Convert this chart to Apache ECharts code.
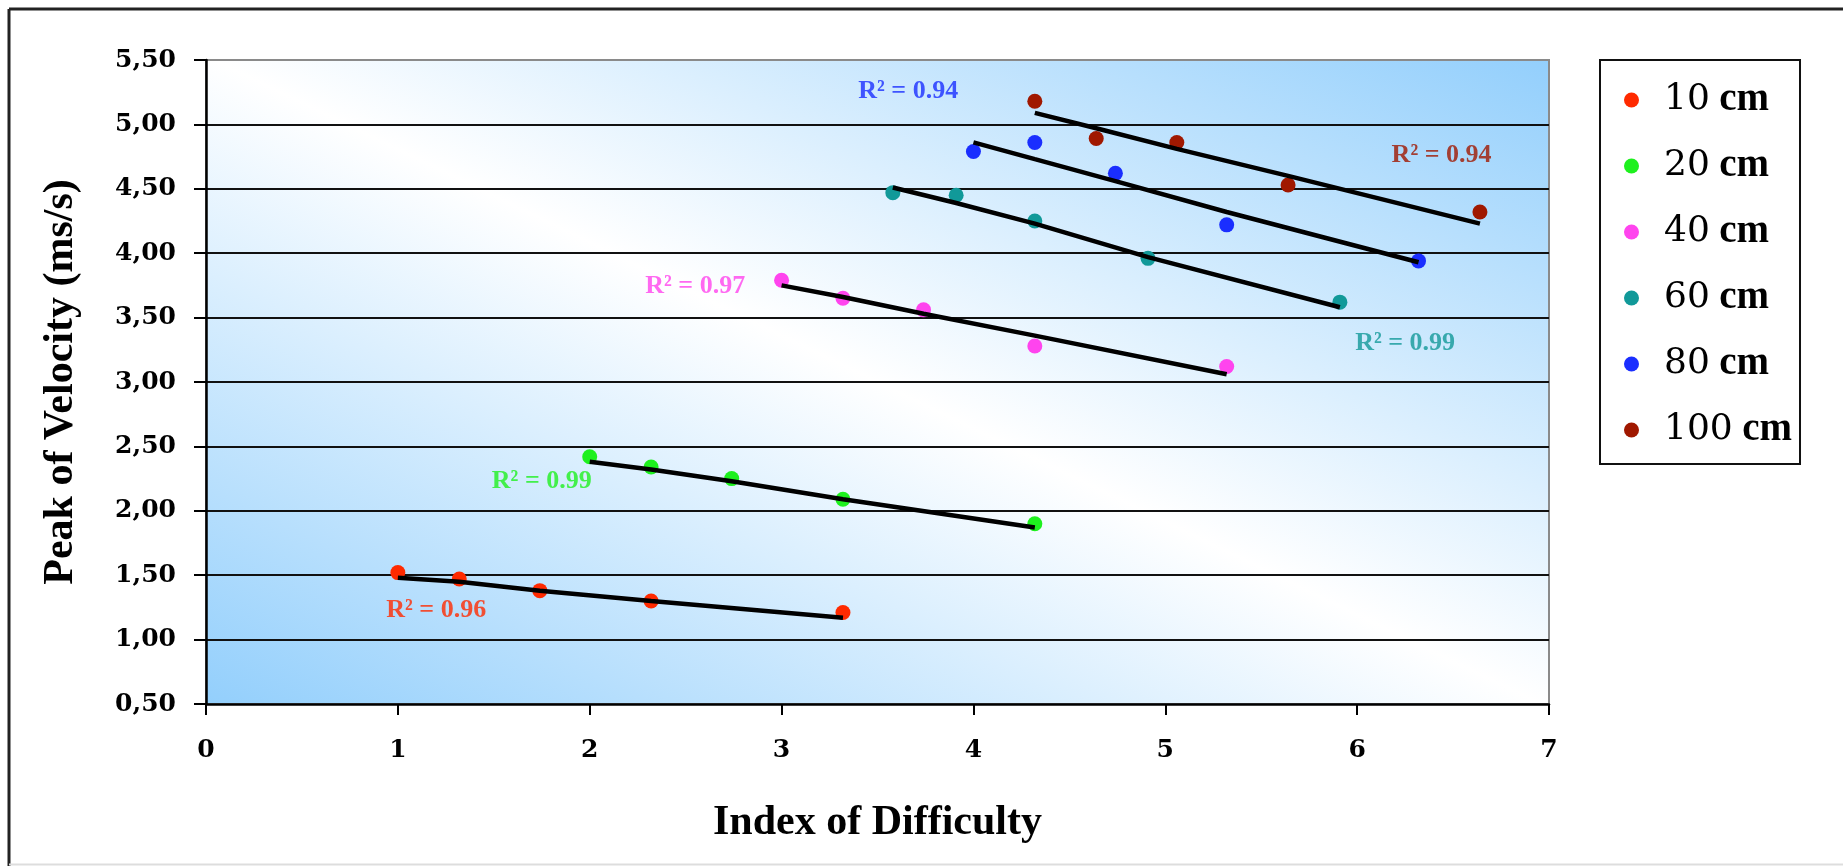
<!DOCTYPE html>
<html>
<head>
<meta charset="utf-8">
<script src="https://cdn.jsdelivr.net/npm/echarts@6/dist/echarts.min.js"></script>
<style>
html,body{margin:0;padding:0;background:#ffffff;}
#c{width:1843px;height:866px;}
</style>
</head>
<body>
<div id="c"></div>
<script>
// ---- data ----
const SERIES_NAMES = ['10 cm', '20 cm', '40 cm', '60 cm', '80 cm', '100 cm'];
const SERIES_COLORS = ['#ff2a00', '#1ef01e', '#ff44ee', '#119999', '#1a2eff', '#a01800'];

// Index of Difficulty (x) per distance
const ID_10  = [1.00, 1.32, 1.74, 2.32, 3.32];
const ID_20  = [2.00, 2.32, 2.74, 3.32, 4.32];
const ID_40  = [3.00, 3.32, 3.74, 4.32, 5.32];
const ID_60  = [3.58, 3.91, 4.32, 4.91, 5.91];
const ID_80  = [4.00, 4.32, 4.74, 5.32, 6.32];
const ID_100 = [4.32, 4.64, 5.06, 5.64, 6.64];

// Peak of velocity (y)
const PV_10  = [1.52, 1.47, 1.38, 1.30, 1.21];
const PV_20  = [2.42, 2.34, 2.25, 2.09, 1.90];
const PV_40  = [3.79, 3.65, 3.56, 3.28, 3.12];
const PV_60  = [4.47, 4.45, 4.25, 3.96, 3.62];
const PV_80  = [4.79, 4.86, 4.62, 4.22, 3.94];
const PV_100 = [5.18, 4.89, 4.86, 4.53, 4.32];

// Trend line values read at each x
const TR_10  = [1.48, 1.45, 1.38, 1.30, 1.17];
const TR_20  = [2.38, 2.32, 2.23, 2.09, 1.87];
const TR_40  = [3.75, 3.66, 3.53, 3.36, 3.06];
const TR_60  = [4.51, 4.39, 4.23, 3.97, 3.58];
const TR_80  = [4.86, 4.73, 4.56, 4.32, 3.93];
const TR_100 = [5.09, 4.97, 4.81, 4.60, 4.23];

// R² annotations: text and anchor (data coords)
const R2_TEXT = ['R² = 0.96', 'R² = 0.99', 'R² = 0.97', 'R² = 0.99', 'R² = 0.94', 'R² = 0.94'];
const R2_X = [1.20, 1.75, 2.55, 6.25, 3.66, 6.44];
const R2_Y = [1.23, 2.23, 3.74, 3.30, 5.26, 4.76];

const Y_TICK_LABELS = ['0,50','1,00','1,50','2,00','2,50','3,00','3,50','4,00','4,50','5,00','5,50'];
const X_TICK_LABELS = ['0','1','2','3','4','5','6','7'];

const IDS = [ID_10, ID_20, ID_40, ID_60, ID_80, ID_100];
const PVS = [PV_10, PV_20, PV_40, PV_60, PV_80, PV_100];
const TRS = [TR_10, TR_20, TR_40, TR_60, TR_80, TR_100];

// ---- chart ----
const SERIF = "'Liberation Serif', 'Times New Roman', serif";
const TICKFONT = "'DejaVu Serif', serif";

const series = [];
for (let i = 0; i < SERIES_NAMES.length; i++) {
  series.push({
    name: SERIES_NAMES[i],
    type: 'scatter',
    symbol: 'circle',
    symbolSize: 15,
    itemStyle: { color: SERIES_COLORS[i], opacity: 1 },
    data: IDS[i].map((x, j) => [x, PVS[i][j]]),
    z: 2
  });
}
for (let i = 0; i < SERIES_NAMES.length; i++) {
  series.push({
    name: 'trend ' + SERIES_NAMES[i],
    type: 'line',
    showSymbol: false,
    symbol: 'none',
    silent: true,
    lineStyle: { color: '#000000', width: 4.5 },
    data: IDS[i].map((x, j) => [x, TRS[i][j]]),
    z: 3
  });
}
for (let i = 0; i < SERIES_NAMES.length; i++) {
  series.push({
    name: 'r2 ' + SERIES_NAMES[i],
    type: 'scatter',
    symbolSize: 0,
    silent: true,
    data: [[R2_X[i], R2_Y[i]]],
    label: {
      show: true,
      position: 'inside',
      formatter: R2_TEXT[i],
      color: SERIES_COLORS[i],
      fontFamily: SERIF,
      fontWeight: 'bold',
      fontSize: 26
    },
    z: 4
  });
}

const chart = echarts.init(document.getElementById('c'), null, { renderer: 'canvas' });
chart.setOption({
  animation: false,
  backgroundColor: '#ffffff',
  grid: {
    left: 206, top: 60, right: 294, bottom: 162,
    show: true,
    borderColor: '#8a8a8a',
    borderWidth: 2,
    backgroundColor: {
      type: 'linear',
      x: 0.311, y: 1.311, x2: 0.689, y2: -0.311,
      colorStops: [
        { offset: 0, color: '#93cffc' },
        { offset: 0.5, color: '#ffffff' },
        { offset: 1, color: '#93cffc' }
      ]
    }
  },
  legend: {
    data: SERIES_NAMES,
    orient: 'vertical',
    left: 1600,
    top: 60,
    backgroundColor: '#ffffff',
    borderColor: '#111111',
    borderWidth: 2,
    borderRadius: 0,
    padding: [20, 8, 14, 24],
    itemGap: 26,
    itemWidth: 15,
    itemHeight: 15,
    icon: 'circle',
    formatter: function (name) {
      const parts = name.split(' ');
      return '{n|' + parts[0] + '} {b|' + parts[1] + '}';
    },
    textStyle: {
      color: '#000',
      fontFamily: SERIF,
      fontSize: 38,
      lineHeight: 40,
      padding: [0, 0, 0, 20],
      rich: {
        n: { fontFamily: TICKFONT, fontSize: 36, fontWeight: 'normal', lineHeight: 40, color: '#000' },
        b: { fontFamily: SERIF, fontSize: 39, fontWeight: 'bold', lineHeight: 40, color: '#000' }
      }
    }
  },
  xAxis: {
    type: 'value',
    min: 0, max: 7, interval: 1,
    name: 'Index of Difficulty',
    nameLocation: 'middle',
    nameGap: 98,
    nameTextStyle: { fontFamily: SERIF, fontWeight: 'bold', fontSize: 42, color: '#000' },
    axisLine: { show: true, onZero: false, lineStyle: { color: '#000', width: 2.5 } },
    axisTick: { show: true, length: 11, lineStyle: { color: '#000', width: 2 } },
    axisLabel: {
      margin: 34,
      fontFamily: TICKFONT, fontWeight: 'bold', fontSize: 25, color: '#000',
      formatter: function (v) { return X_TICK_LABELS[Math.round(v)]; }
    },
    splitLine: { show: false }
  },
  yAxis: {
    type: 'value',
    min: 0.5, max: 5.5, interval: 0.5,
    name: 'Peak of Velocity (ms/s)',
    nameLocation: 'middle',
    nameGap: 124,
    nameRotate: 90,
    nameTextStyle: { fontFamily: SERIF, fontWeight: 'bold', fontSize: 42, color: '#000' },
    axisLine: { show: true, onZero: false, lineStyle: { color: '#000', width: 2.5 } },
    axisTick: { show: true, length: 12, lineStyle: { color: '#000', width: 2 } },
    axisLabel: {
      margin: 30,
      fontFamily: TICKFONT, fontWeight: 'bold', fontSize: 25, color: '#000',
      formatter: function (v) { return Y_TICK_LABELS[Math.round((v - 0.5) / 0.5)]; }
    },
    splitLine: { show: true, showMinLine: false, showMaxLine: false, lineStyle: { color: '#111', width: 2 } }
  },
  graphic: [
    { type: 'line', shape: { x1: 9, y1: 9, x2: 1843, y2: 9 }, style: { stroke: '#222', lineWidth: 3 }, z: 100 },
    { type: 'line', shape: { x1: 9, y1: 9, x2: 9, y2: 866 }, style: { stroke: '#222', lineWidth: 3 }, z: 100 },
    { type: 'line', shape: { x1: 9, y1: 864.5, x2: 1843, y2: 864.5 }, style: { stroke: '#dddddd', lineWidth: 2 }, z: 100 }
  ],
  series: series
});
</script>
</body>
</html>
